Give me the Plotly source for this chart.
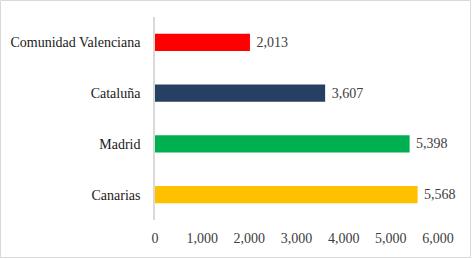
import plotly.graph_objects as go

categories = ["Canarias", "Madrid", "Cataluña", "Comunidad Valenciana"]
values = [5568, 5398, 3607, 2013]
colors = ["#FFC000", "#00B050", "#263F62", "#FF0000"]
x_ticks = [0, 1000, 2000, 3000, 4000, 5000, 6000]

W, H = 472, 259
L, R, T, B = 155, 34, 17, 39
pw, ph = W - L - R, H - T - B

fig = go.Figure(go.Bar(
    y=categories, x=values, orientation="h",
    marker=dict(color=colors, line=dict(width=0)),
    text=[f"\u00a0{v:,}" for v in values], textposition="outside",
    textfont=dict(family="Liberation Serif", size=14, color="#404040"),
    cliponaxis=False, width=0.34,
))

fig.update_layout(
    width=W, height=H,
    margin=dict(l=L, r=R, t=T, b=B, autoexpand=False),
    paper_bgcolor="white", plot_bgcolor="white",
    font=dict(family="Liberation Serif", size=14, color="#1a1a1a"),
    showlegend=False,
    xaxis=dict(range=[0, 6000], tickvals=x_ticks, tickformat=",", showgrid=False,
               zeroline=False, showline=False, ticks="", ticklabelstandoff=8,
               automargin=False, tickfont=dict(color="#404040")),
    yaxis=dict(showgrid=False, zeroline=False, showline=True, linecolor="#D9D9D9",
               linewidth=1.5, ticks="", ticklabelstandoff=10, automargin=False),
    shapes=[dict(type="rect", xref="paper", yref="paper",
                 x0=-(L - 0.5) / pw, x1=1 + (R - 1.5) / pw,
                 y0=-(B - 1.5) / ph, y1=1 + (T - 0.5) / ph,
                 line=dict(color="#D9D9D9", width=1))],
)

fig.write_html("out.html", config={"displayModeBar": False},
               post_script="document.body.style.margin='0';")
